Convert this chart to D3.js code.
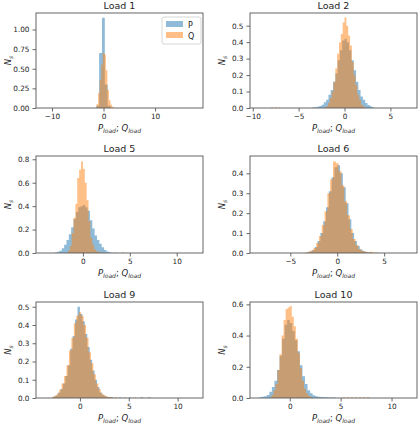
<!DOCTYPE html>
<html>
<head>
<meta charset="utf-8">
<script src="https://cdn.jsdelivr.net/npm/d3@7"></script>
<style>
  body { margin: 0; background: #fff; }
  svg { display: block; }
  text { font-family: "DejaVu Sans", sans-serif; fill: #262626; }
</style>
</head>
<body>
<div id="chart"></div>
<script>
// Data
const titles = ["Load 1", "Load 2", "Load 5", "Load 6", "Load 9", "Load 10"];
const xDomains = [[-13.1, 19.3], [-10.3, 7.9], [-5.0, 12.8], [-9.3, 8.5], [-4.5, 12.6], [-3.9, 12.5]];
const yMax = [1.21, 0.577, 0.828, 0.487, 0.526, 0.615];
const xTicks = [[-10, 0, 10], [-10, -5, 0, 5], [0, 5, 10], [-5, 0, 5], [0, 5, 10], [0, 5, 10]];
const yTicks = [[0, 0.25, 0.5, 0.75, 1.0], [0, 0.1, 0.2, 0.3, 0.4, 0.5], [0, 0.2, 0.4, 0.6, 0.8],
                [0, 0.1, 0.2, 0.3, 0.4], [0, 0.1, 0.2, 0.3, 0.4, 0.5], [0, 0.2, 0.4, 0.6]];
const yFormats = [".2f", ".1f", ".1f", ".1f", ".1f", ".1f"];

// histogram bins: first edge, bin width, densities
const pStart = [-1.4, -3.5, -3.0, -3.3, -2.75, -3.0];
const pWidth = [0.55, 0.25, 0.25, 0.3, 0.25, 0.25];
const qStart = [-1.35, -2.2, -1.6, -3.45, -2.875, -1.8];
const qWidth = [0.3, 0.2, 0.2, 0.3, 0.25, 0.2];

const p1 = [0.03, 0.70, 1.15, 0.30, 0.03];
const q1 = [0.05, 0.19, 0.36, 0.55, 0.70, 0.68, 0.48, 0.23, 0.10, 0.04, 0.015];

const p2 = [0.003, 0.005, 0.008, 0.012, 0.02, 0.035, 0.05, 0.08, 0.11, 0.16, 0.21, 0.29, 0.35, 0.41,
            0.42, 0.40, 0.35, 0.29, 0.23, 0.16, 0.11, 0.07, 0.05, 0.03, 0.018, 0.01, 0.005];
const q2 = [0.005, 0.01, 0.03, 0.06, 0.10, 0.16, 0.24, 0.33, 0.40, 0.45, 0.52, 0.55, 0.50, 0.44,
            0.38, 0.28, 0.20, 0.14, 0.08, 0.05, 0.02, 0.01];

const p5 = [0.005, 0.01, 0.02, 0.04, 0.07, 0.11, 0.16, 0.22, 0.29, 0.35, 0.39, 0.40, 0.41, 0.39,
            0.36, 0.28, 0.21, 0.15, 0.11, 0.08, 0.05, 0.025, 0.012, 0.006, 0.003];
const q5 = [0.02, 0.06, 0.17, 0.30, 0.42, 0.64, 0.71, 0.78, 0.72, 0.60, 0.45, 0.27, 0.13, 0.07,
            0.03, 0.015, 0.01, 0.005, 0.004, 0.003];

const p6 = [0.003, 0.008, 0.015, 0.03, 0.06, 0.10, 0.16, 0.23, 0.31, 0.38, 0.43, 0.44, 0.40, 0.33,
            0.25, 0.17, 0.10, 0.06, 0.035, 0.018, 0.01, 0.005, 0.003];
const q6 = [0.003, 0.006, 0.012, 0.025, 0.05, 0.085, 0.14, 0.21, 0.30, 0.37, 0.46, 0.45, 0.41, 0.34,
            0.26, 0.19, 0.12, 0.07, 0.04, 0.02, 0.01, 0.006, 0.004, 0.006, 0.003, 0.003];

const p9 = [0.008, 0.015, 0.03, 0.05, 0.08, 0.12, 0.18, 0.27, 0.34, 0.43, 0.50, 0.46, 0.42, 0.35,
            0.28, 0.21, 0.15, 0.10, 0.06, 0.03, 0.018, 0.01, 0.006, 0.004, 0.003];
const q9 = [0.006, 0.012, 0.025, 0.045, 0.08, 0.12, 0.18, 0.26, 0.33, 0.41, 0.45, 0.47, 0.45, 0.40,
            0.33, 0.25, 0.19, 0.13, 0.08, 0.05, 0.025, 0.015, 0.008, 0.005, 0.004];

const p10 = [0.005, 0.008, 0.012, 0.02, 0.04, 0.07, 0.11, 0.18, 0.27, 0.38, 0.47, 0.50, 0.48, 0.43,
             0.37, 0.30, 0.21, 0.14, 0.09, 0.05, 0.03, 0.018, 0.012, 0.008, 0.006, 0.005, 0.005,
             0.004, 0.004, 0.003];
const q10 = [0.02, 0.05, 0.09, 0.18, 0.28, 0.40, 0.50, 0.57, 0.58, 0.59, 0.52, 0.46, 0.38, 0.29,
             0.19, 0.11, 0.06, 0.03, 0.015, 0.008];

// isolated outlier bins: [left edge, density]
const qTail2 = [[-8.0, 0.004], [-7.6, 0.004], [-7.2, 0.004]];
const qTail5 = [[3.4, 0.005], [4.2, 0.006]];
const pTail9 = [[4.0, 0.003], [5.0, 0.003], [6.2, 0.004], [7.0, 0.004]];
const qTail9 = [[3.6, 0.004], [4.5, 0.003], [5.5, 0.003]];
const qTail10 = [[5.2, 0.005], [5.6, 0.004], [6.0, 0.005], [6.4, 0.004], [6.8, 0.004], [7.2, 0.005], [7.6, 0.006]];

const pSeries = [p1, p2, p5, p6, p9, p10];
const qSeries = [q1, q2, q5, q6, q9, q10];
const pTails = [[], [], [], [], pTail9, []];
const qTails = [[], qTail2, qTail5, [], qTail9, qTail10];

// Layout
const width = 418, height = 423;
const cols = [[36, 203], [250, 417]];
const rows = [[13, 108], [156, 253], [302, 398]];
const colorP = "#1f77b4", colorQ = "#ff7f0e";

const svg = d3.select("#chart").append("svg")
    .attr("width", width)
    .attr("height", height);

const minus = v => (v < 0 ? "\u2212" + Math.abs(v) : String(v));

titles.forEach((title, i) => {
  const [L, R] = cols[i % 2];
  const [T, B] = rows[Math.floor(i / 2)];
  const g = svg.append("g");

  const x = d3.scaleLinear().domain(xDomains[i]).range([L, R]);
  const y = d3.scaleLinear().domain([0, yMax[i]]).range([B, T]);

  // histograms as step areas
  const drawHist = (start, w, heights, tail, color) => {
    const pts = heights.map((h, k) => [start + k * w, h]);
    pts.push([start + heights.length * w, heights[heights.length - 1]]);
    const area = d3.area()
        .curve(d3.curveStepAfter)
        .x(d => x(d[0]))
        .y0(y(0))
        .y1(d => y(d[1]));
    g.append("path")
        .attr("d", area(pts))
        .attr("fill", color)
        .attr("fill-opacity", 0.5);
    g.selectAll(null)
        .data(tail)
        .enter()
        .append("rect")
        .attr("x", d => x(d[0]))
        .attr("y", d => y(d[1]))
        .attr("width", x(start + w) - x(start))
        .attr("height", d => y(0) - y(d[1]))
        .attr("fill", color)
        .attr("fill-opacity", 0.5);
  };
  drawHist(pStart[i], pWidth[i], pSeries[i], pTails[i], colorP);
  drawHist(qStart[i], qWidth[i], qSeries[i], qTails[i], colorQ);

  // axes
  const xa = g.append("g")
      .attr("transform", `translate(0,${B})`)
      .call(d3.axisBottom(x).tickValues(xTicks[i]).tickSize(3.5).tickPadding(2).tickFormat(minus));
  const ya = g.append("g")
      .attr("transform", `translate(${L},0)`)
      .call(d3.axisLeft(y).tickValues(yTicks[i]).tickSize(3.5).tickPadding(3).tickFormat(d3.format(yFormats[i])));
  [xa, ya].forEach(a => {
    a.select(".domain").remove();
    a.selectAll("line").attr("stroke", "#444").attr("stroke-width", 0.8);
    a.selectAll("text").attr("font-size", 7.3).attr("fill", "#262626");
  });

  // frame
  g.append("rect")
      .attr("x", L).attr("y", T)
      .attr("width", R - L).attr("height", B - T)
      .attr("fill", "none")
      .attr("stroke", "#555")
      .attr("stroke-width", 0.9);

  // title
  g.append("text")
      .attr("x", (L + R) / 2)
      .attr("y", T - 4)
      .attr("text-anchor", "middle")
      .attr("font-size", 9.5)
      .text(title);

  // x label: P_load; Q_load
  const xl = g.append("text")
      .attr("x", (L + R) / 2)
      .attr("y", B + 23)
      .attr("text-anchor", "middle")
      .attr("font-size", 8.5)
      .attr("font-style", "italic");
  xl.append("tspan").text("P");
  xl.append("tspan").attr("font-size", 6).attr("dy", 2).text("load");
  xl.append("tspan").attr("dy", -2).attr("font-style", "normal").text("; ");
  xl.append("tspan").text("Q");
  xl.append("tspan").attr("font-size", 6).attr("dy", 2).text("load");

  // y label: N_s
  const yl = g.append("text")
      .attr("transform", `translate(${L - 25},${(T + B) / 2}) rotate(-90)`)
      .attr("text-anchor", "middle")
      .attr("font-size", 8.5)
      .attr("font-style", "italic");
  yl.append("tspan").text("N");
  yl.append("tspan").attr("font-size", 6).attr("dy", 2).text("s");

  // legend only on the first panel
  if (i === 0) {
    const lg = g.append("g");
    lg.append("rect")
        .attr("x", 162).attr("y", 17)
        .attr("width", 39).attr("height", 27)
        .attr("rx", 2)
        .attr("fill", "#fff").attr("fill-opacity", 0.8)
        .attr("stroke", "#ccc").attr("stroke-width", 0.8);
    [["P", colorP], ["Q", colorQ]].forEach(([lab, c], k) => {
      lg.append("rect")
          .attr("x", 166).attr("y", 21 + k * 11)
          .attr("width", 17).attr("height", 6)
          .attr("fill", c).attr("fill-opacity", 0.5);
      lg.append("text")
          .attr("x", 188).attr("y", 27.5 + k * 11)
          .attr("font-size", 8)
          .text(lab);
    });
  }
});
</script>
</body>
</html>
